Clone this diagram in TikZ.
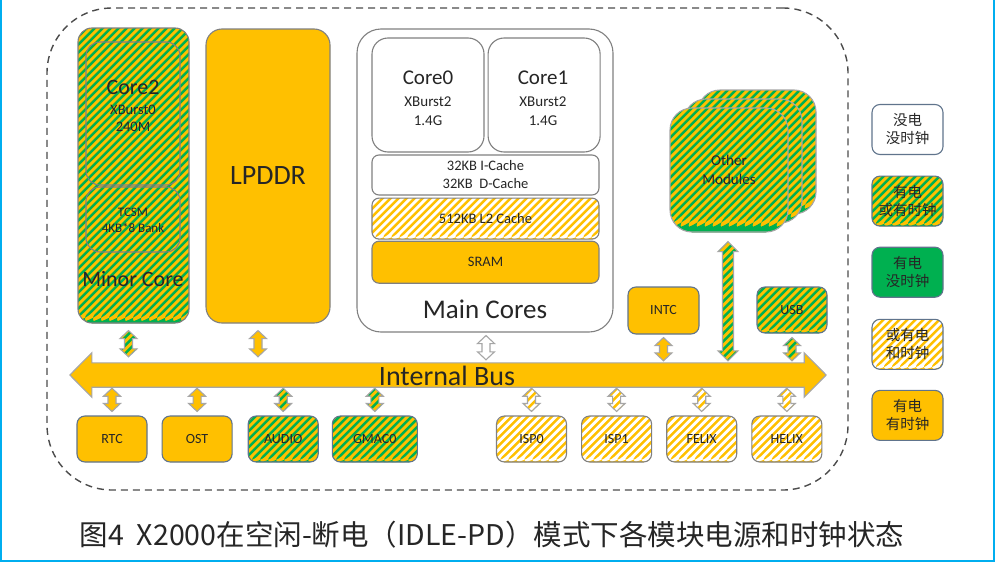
\documentclass[tikz,border=0pt]{standalone}
\usepackage{fontspec}
\setmainfont{Carlito}
\newfontfamily\cjk{Noto Sans CJK SC}
\usetikzlibrary{positioning,calc}
\definecolor{gold}{RGB}{255,192,0}
\definecolor{leaf}{RGB}{0,176,80}
\definecolor{edgegray}{RGB}{128,128,128}
\definecolor{slate}{RGB}{96,116,140}
\definecolor{arrowgray}{RGB}{166,166,166}
\definecolor{framecyan}{RGB}{0,174,239}
\newcommand\fsz[2]{\fontsize{#1}{#2}\selectfont}
\tikzset{
  stripes/.style 2 args={fill=#1,path picture={
      \foreach \k in {-45,...,45}
        \fill[#2] ([xshift=\k*8pt]path picture bounding box.south west)
          -- ++(3.5pt,0pt) -- ++(400pt,400pt) -- ++(-3.5pt,0pt) -- cycle;}},
  powered/.style={stripes={gold}{leaf}},
  gated/.style={stripes={white}{gold}},
  filled/.style={fill=gold},
  link hw/.store in=\linkhw, link sw/.store in=\linksw, link hl/.store in=\linkhl,
  link/.style={draw=arrowgray,line width=1.1pt,fill=gold,
               link hw=8.5pt,link sw=4pt,link hl=8pt},
}
% vertical double block arrow: x and top from #2, bottom from #3
\newcommand\vlink[3][]{%
  \path[link,#1] let \p1=#2, \p2=#3 in
    (\x1,\y1) -- (\x1+\linkhw,\y1-\linkhl) -- (\x1+\linksw,\y1-\linkhl)
    -- (\x1+\linksw,\y2+\linkhl) -- (\x1+\linkhw,\y2+\linkhl) -- (\x1,\y2)
    -- (\x1-\linkhw,\y2+\linkhl) -- (\x1-\linksw,\y2+\linkhl)
    -- (\x1-\linksw,\y1-\linkhl) -- (\x1-\linkhw,\y1-\linkhl) -- cycle;}
\begin{document}
\begin{tikzpicture}[x=1pt,y=-1pt,text=black!85,
    box/.style={draw=slate,line width=1.1pt,rounded corners=8pt,
                minimum width=70pt,minimum height=46pt,inner sep=0pt,
                font=\fsz{14}{17}},
    legendbox/.style={box,minimum width=71pt,minimum height=50pt,
                      align=center,font=\cjk\fsz{14.5}{18}},
    corebox/.style={draw=edgegray,line width=1.1pt,fill=white,
                    rounded corners=16pt,minimum width=112pt,minimum height=114pt},
    cache/.style={draw=edgegray,line width=1.1pt,rounded corners=7pt,
                  minimum width=227pt,inner sep=0pt,align=center,
                  font=\fsz{14.5}{18}},
    module/.style={draw=arrowgray,line width=1.1pt,powered,rounded corners=22pt,
                   minimum width=118pt,minimum height=124pt}]
  \useasboundingbox (0,0) rectangle (995,562);
  \fill[white] (0,0) rectangle (995,562);
  \draw[framecyan,line width=2pt] (1,0) -- (1,561) -- (994,561) -- (994,0);

  \node[draw=black!70,line width=1.4pt,dash pattern=on 7pt off 5pt,
        rounded corners=65pt,minimum width=801pt,minimum height=482pt]
        (chip) at (447.5,249) {};

  % minor core
  \node[draw=edgegray,line width=1.1pt,powered,rounded corners=14pt,
        minimum width=111pt,minimum height=295pt] (minor) at (133.5,175.5) {};
  \node[draw=edgegray,line width=1.1pt,rounded corners=14pt,
        minimum width=94pt,minimum height=143pt] (core2) at (133,113.5) {};
  \node[draw=edgegray,line width=1.1pt,rounded corners=14pt,
        minimum width=94pt,minimum height=65pt] (tcsm) at (133,219.5) {};
  \node[align=center,font=\fsz{14.5}{17}] (core2txt) at (133,106)
    {{\fsz{22}{24}Core2}\\[3pt]XBurst0\\240M};
  \node[align=center,font=\fsz{13}{16}] (tcsmtxt) at (133,220) {TCSM\\4KB*8 Bank};
  \node[font=\fsz{22}{24}] (minortxt) at (133,279) {Minor Core};

  % memory
  \node[draw=edgegray,line width=1.1pt,fill=gold,rounded corners=16pt,
        minimum width=124pt,minimum height=294pt,font=\fsz{28}{30}]
        (lpddr) at (268,176) {LPDDR};

  % main cores
  \node[draw=edgegray,line width=1.1pt,fill=white,rounded corners=24pt,
        minimum width=256pt,minimum height=303pt] (main) at (485,180.5) {};
  \node[corebox] (core0) at (428,95) {};
  \node[corebox,right=3pt of core0] (core1) {};
  \node[align=center,font=\fsz{15}{19}] (core0txt) at (428,98)
    {{\fsz{21}{24}Core0}\\[3pt]XBurst2\\1.4G};
  \node[align=center,font=\fsz{15}{19}] (core1txt) at (543,98)
    {{\fsz{21}{24}Core1}\\[3pt]XBurst2\\1.4G};
  \node[cache,fill=white,minimum height=40pt] (l1) at (485.5,175)
    {32KB I-Cache\\32KB\ \ D-Cache};
  \node[cache,gated,minimum height=41pt,below=2pt of l1] (l2) {512KB L2 Cache};
  \node[cache,fill=gold,minimum height=42pt,below=1pt of l2] (sram) {SRAM};
  \node[font=\fsz{27}{30}] (maintxt) at (485,309) {Main Cores};

  % other modules
  \node[module] (mod3) at (757,152) {};
  \node[module] (mod2) at (743,161) {};
  \node[module,align=center,font=\fsz{15}{19.5}] (mod1) at (729,170) {Other\\Modules};
  \node[box,fill=gold,minimum width=71pt,minimum height=47pt] (intc) at (663.5,310.5) {INTC};
  \node[box,powered] (usb) at (792,310) {USB};

  % internal bus
  \node[minimum width=712pt,minimum height=24pt,inner sep=0pt] (bus) at (448,375) {};
  \path[draw=arrowgray,line width=1.1pt,fill=gold]
    let \p1=(bus.north west), \p2=(bus.south east) in
    (\x1-22pt,{0.5*\y1+0.5*\y2}) -- (\x1,\y1+10pt) -- (\x1,\y1) -- (\x2,\y1)
    -- (\x2,\y1+10pt) -- (\x2+22pt,{0.5*\y1+0.5*\y2}) -- (\x2,\y2-10pt)
    -- (\x2,\y2) -- (\x1,\y2) -- (\x1,\y2-10pt) -- cycle;
  \node[font=\fsz{28}{30}] (bustxt) at (447,376) {Internal Bus};

  % peripherals
  \node[box,fill=gold] (rtc) at (112,439) {RTC};
  \node[box,fill=gold,right=14pt of rtc] (ost) {OST};
  \node[box,powered,right=15pt of ost] (audio) {AUDIO};
  \node[box,powered,minimum width=85pt,right=13pt of audio] (gmac) {GMAC0};
  \node[box,gated,draw=edgegray] (isp0) at (531.5,439) {ISP0};
  \node[box,gated,draw=edgegray,right=14pt of isp0] (isp1) {ISP1};
  \node[box,gated,draw=edgegray,right=14pt of isp1] (felix) {FELIX};
  \node[box,gated,draw=edgegray,right=14pt of felix] (helix) {HELIX};

  % connectors to the bus
  \vlink[powered]{($(minor.south)+(-5,7)$)}{($(bus.north)+(0,-6)$)}
  \vlink{($(lpddr.south)+(-10,7)$)}{($(bus.north)+(0,-6)$)}
  \vlink[fill=white]{($(main.south)+(1,3)$)}{($(bus.north)+(0,-3)$)}
  \vlink{($(intc.south)+(0,3)$)}{($(bus.north)+(0,-2)$)}
  \vlink[powered]{($(usb.south)+(0,4)$)}{($(bus.north)+(0,-2)$)}
  \vlink[powered,link hw=10pt,link sw=5.5pt,link hl=10pt]
    {($(mod1.south)+(-1,9)$)}{($(bus.north)+(0,-2)$)}
  \foreach \b/\s in {rtc/filled,ost/filled,audio/powered,gmac/powered,
                     isp0/gated,isp1/gated,felix/gated,helix/gated}
    \vlink[\s]{($(\b.north |- bus.south)+(0,1)$)}{($(\b.north)+(0,-4)$)};

  % legend
  \node[legendbox,fill=white] (lg1) at (907.5,129.5) {没电\\没时钟};
  \node[legendbox,powered,below=20.5pt of lg1] (lg2) {有电\\或有时钟};
  \node[legendbox,fill=leaf,below=20pt of lg2] (lg3) {有电\\没时钟};
  \node[legendbox,gated,below=21pt of lg3] (lg4) {或有电\\和时钟};
  \node[legendbox,fill=gold,below=20pt of lg4] (lg5) {有电\\有时钟};

  \node[font=\cjk\fsz{28.5}{31}] (caption) at (492,535)
    {图4\ \ X2000在空闲-断电（IDLE-PD）模式下各模块电源和时钟状态};
\end{tikzpicture}
\end{document}
